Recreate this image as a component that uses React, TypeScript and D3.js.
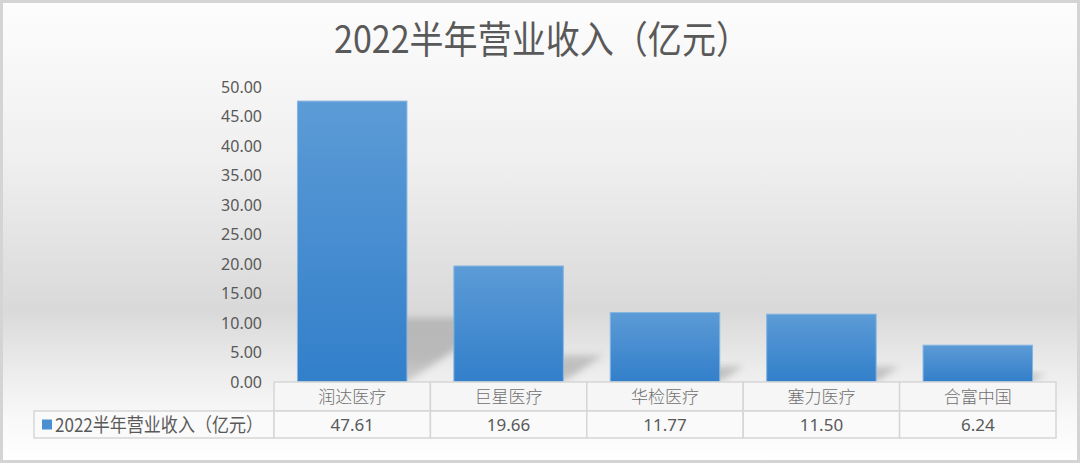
import React from "react";
import * as d3 from "d3";

const categories = ["润达医疗", "巨星医疗", "华检医疗", "塞力医疗", "合富中国"];
const revenue = [47.61, 19.66, 11.77, 11.5, 6.24];
const valueLabels = ["47.61", "19.66", "11.77", "11.50", "6.24"];
const yTicks = [0, 5, 10, 15, 20, 25, 30, 35, 40, 45, 50];
const seriesName = "2022半年营业收入（亿元）";
const title = "2022半年营业收入（亿元）";

const W = 1080;
const H = 463;

export default function App() {
  const x = d3.scaleBand<string>().domain(categories).range([274, 1056]).paddingInner(0.3).paddingOuter(0.15);
  const xCell = d3.scaleBand<string>().domain(categories).range([274, 1056]).padding(0);
  const y = d3.scaleLinear().domain([0, 50]).range([382, 87]);
  const base = y(0);
  const sans = "'Noto Sans CJK SC', 'Noto Sans', sans-serif";
  const textColor = "#595959";

  return (
    <div style={{ position: "absolute", left: 0, top: 0 }}>
      <svg width={W} height={H} viewBox={`0 0 ${W} ${H}`} style={{ display: "block" }}>
        <defs>
          <linearGradient id="bg" x1="0" y1="0" x2="0" y2={H} gradientUnits="userSpaceOnUse">
            <stop offset={0} stopColor="#fdfdfd" />
            <stop offset={0.35} stopColor="#efefef" />
            <stop offset={0.67} stopColor="#d9d9d9" />
            <stop offset={0.8} stopColor="#ececec" />
            <stop offset={0.9} stopColor="#f8f8f8" />
            <stop offset={1} stopColor="#ffffff" />
          </linearGradient>
          <linearGradient id="barGrad" x1="0" y1="0" x2="0" y2="1">
            <stop offset={0} stopColor="#5c9bd6" />
            <stop offset={1} stopColor="#327fca" />
          </linearGradient>
          <linearGradient id="shadowGrad" x1="0" y1="1" x2="0" y2="0">
            <stop offset={0} stopColor="#000" stopOpacity={0.14} />
            <stop offset={0.4} stopColor="#000" stopOpacity={0.2} />
            <stop offset={1} stopColor="#000" stopOpacity={0.16} />
          </linearGradient>
          <filter id="blur" x="-30%" y="-30%" width="160%" height="160%">
            <feGaussianBlur stdDeviation={3.5} />
          </filter>
        </defs>
        <rect x={0} y={0} width={W} height={H} fill="#ffffff" />
        <rect x={1.5} y={1.5} width={W - 3} height={H - 3} fill="url(#bg)" stroke="#d4d4d4" strokeWidth={3} />

        <text
          x={W / 2 + 2}
          y={53}
          textAnchor="middle"
          fontFamily={sans}
          fontSize={38}
          fill={textColor}
          textLength={416}
          lengthAdjust="spacingAndGlyphs"
        >
          {title}
        </text>

        {/* y axis tick labels */}
        {yTicks.map((t) => (
          <text
            key={t}
            x={262}
            y={y(t)}
            dy="0.35em"
            textAnchor="end"
            fontFamily="'Noto Sans', sans-serif"
            fontSize={16}
            fill={textColor}
          >
            {t.toFixed(2)}
          </text>
        ))}

        {/* shadows */}
        {categories.map((c, i) => {
          const x0 = x(c)!;
          const x1 = x0 + x.bandwidth();
          const bh = base - y(revenue[i]);
          const sh = bh * 0.23;
          const sx = sh * 1.5;
          const pts = [
            [x0, base],
            [x1, base],
            [x1 + sx, base - sh],
            [x0 + sx, base - sh],
          ];
          return (
            <polygon
              key={"s" + c}
              points={pts.map((p) => p.join(",")).join(" ")}
              fill="url(#shadowGrad)"
              filter="url(#blur)"
            />
          );
        })}

        {/* bars */}
        {categories.map((c, i) => (
          <rect
            key={c}
            x={x(c)!}
            y={y(revenue[i])}
            width={x.bandwidth()}
            height={base - y(revenue[i])}
            fill="url(#barGrad)"
            stroke="#86b6e2"
            strokeWidth={1}
          />
        ))}

        {/* data table */}
        <g fill="none" stroke="#d6d6d6" strokeWidth={1.5}>
          {categories.map((c) => (
            <rect key={"c1" + c} x={xCell(c)!} y={base} width={xCell.bandwidth()} height={29} fill="#f6f6f6" />
          ))}
          <rect x={34} y={base + 29} width={274 - 34} height={27} fill="#fafafa" />
          {categories.map((c) => (
            <rect key={"c2" + c} x={xCell(c)!} y={base + 29} width={xCell.bandwidth()} height={27} fill="#fafafa" />
          ))}
        </g>
        {categories.map((c) => (
          <text
            key={"t" + c}
            x={xCell(c)! + xCell.bandwidth() / 2}
            y={base + 15}
            dy="0.35em"
            textAnchor="middle"
            fontFamily={sans}
            fontWeight={300}
            fontSize={17}
            fill="#6f6f6f"
          >
            {c}
          </text>
        ))}
        {categories.map((c, i) => (
          <text
            key={"v" + c}
            x={xCell(c)! + xCell.bandwidth() / 2}
            y={base + 43}
            dy="0.35em"
            textAnchor="middle"
            fontFamily="'Noto Sans', sans-serif"
            fontSize={17}
            fill={textColor}
          >
            {valueLabels[i]}
          </text>
        ))}
        <rect x={42} y={419.5} width={10} height={10} fill="#4a8fd2" />
        <text
          x={55}
          y={base + 43}
          dy="0.35em"
          fontFamily={sans}
          fontSize={19}
          fill={textColor}
          textLength={208}
          lengthAdjust="spacingAndGlyphs"
        >
          {seriesName}
        </text>
      </svg>
    </div>
  );
}
